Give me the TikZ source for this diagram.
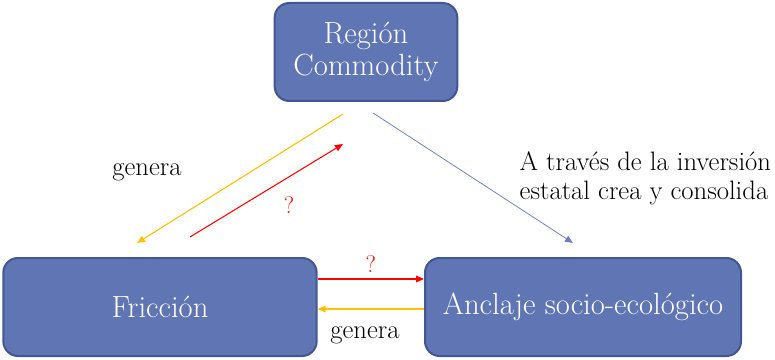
\documentclass[tikz,border=0pt]{standalone}
\usepackage{xcolor}
\usepackage{tikz}
\usetikzlibrary{positioning,arrows.meta}

\definecolor{boxfill}{HTML}{5F75B4}
\definecolor{boxedge}{HTML}{42568F}
\definecolor{gold}{HTML}{FFC000}
\definecolor{linkblue}{HTML}{6F80C2}

\begin{document}
\begin{tikzpicture}[
    x=0.75pt, y=-0.75pt,
    >={Triangle[length=6pt,width=5pt]},
    box/.style={draw=boxedge, line width=1.5pt, fill=boxfill, rounded corners=11pt, text=white, align=center, font=\fontsize{23}{24.5}\selectfont, inner sep=0pt, minimum height=73.5pt},
    lbl/.style={font=\fontsize{20}{22}\selectfont, align=left},
    arrow/.style={->, line width=0.8pt},
]
\useasboundingbox (0,0) rectangle (775,360);

\node[box, minimum width=137pt] (region) at (366,52) {Región\\Commodity};
\node[box, minimum width=235pt] (friccion) at (160,307) {Fricción};
\node[box, minimum width=237pt] (anclaje) at (583,307) {Anclaje socio-ecológico};

% free ends of the diagonal links
\coordinate (genTop) at (343,114);
\coordinate (genBot) at (137,243);
\coordinate (qBot) at (190,237);
\coordinate (qTop) at (343,144);
\coordinate (invTop) at (373,113);
\coordinate (invBot) at (573,243);

\draw[arrow, gold] (genTop) -- (genBot);
\draw[arrow, red] (qBot) -- (qTop);
\draw[arrow, linkblue, line width=0.6pt] (invTop) -- (invBot);

\draw[arrow, red] ([yshift=21pt]friccion.east) -- node[above=1pt, text=red, font=\fontsize{18}{20}\selectfont] (qMid) {?} ([yshift=21pt]anclaje.west);
\draw[arrow, gold] ([yshift=-1.5pt]anclaje.west) -- ([yshift=-1.5pt]friccion.east);

\node[lbl] (genLeft) at (147,172) {genera};
\node[lbl, text=red, font=\fontsize{18}{20}\selectfont] (qDiag) at (289,205) {?};
\node[lbl] (genLow) at (365,335) {genera};
\node[lbl, anchor=west] (invText) at (515,178) {A través de la inversión\\estatal crea y consolida};
\end{tikzpicture}
\end{document}
